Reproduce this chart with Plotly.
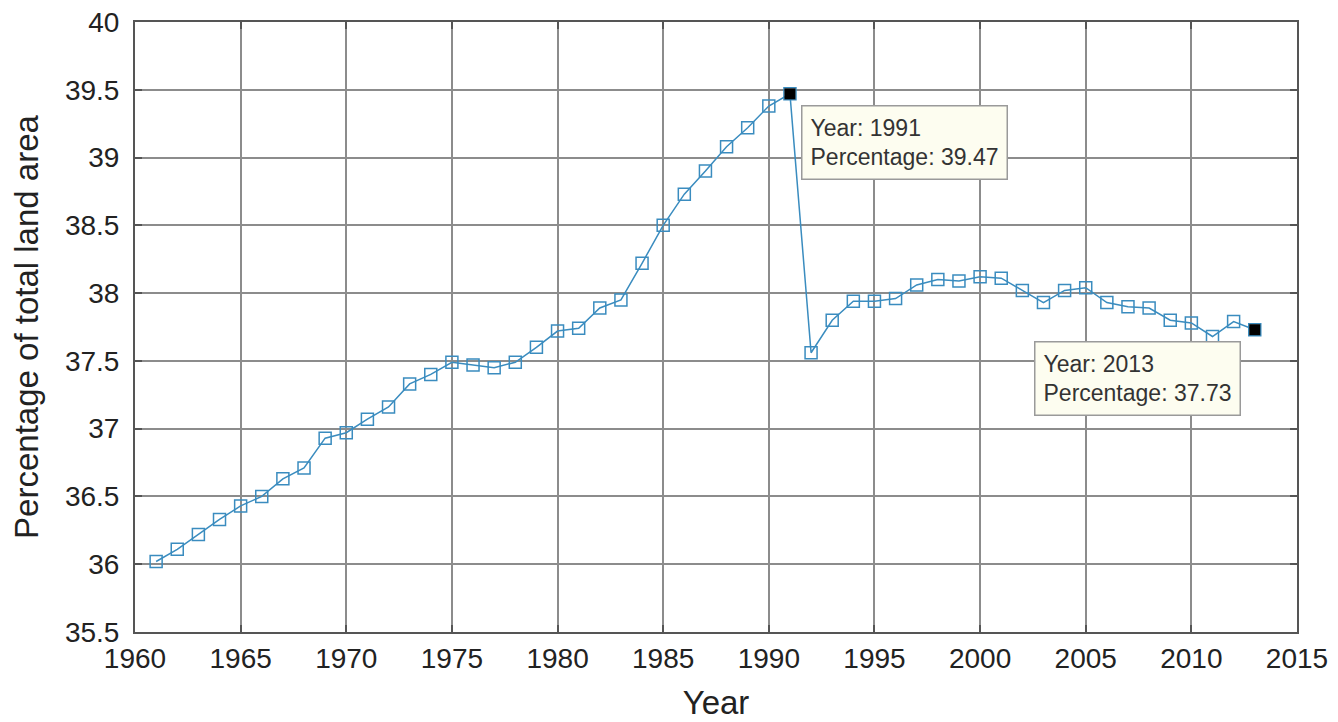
import plotly.graph_objects as go

years = list(range(1961, 2014))
percent = [
    36.02, 36.11, 36.22, 36.33, 36.43, 36.50, 36.63, 36.71, 36.93, 36.97,
    37.07, 37.16, 37.33, 37.40, 37.49, 37.47, 37.45, 37.49, 37.60, 37.72,
    37.74, 37.89, 37.95, 38.22, 38.50, 38.73, 38.90, 39.08, 39.22, 39.38,
    39.47, 37.56, 37.80, 37.94, 37.94, 37.96, 38.06, 38.10, 38.09, 38.12,
    38.11, 38.02, 37.93, 38.02, 38.04, 37.93, 37.90, 37.89, 37.80, 37.78,
    37.68, 37.79, 37.73,
]
tip_years = [1991, 2013]
tip_values = [39.47, 37.73]

x_ticks = list(range(1960, 2016, 5))
y_ticks = [35.5, 36, 36.5, 37, 37.5, 38, 38.5, 39, 39.5, 40]
y_ticklabels = ["35.5", "36", "36.5", "37", "37.5", "38", "38.5", "39", "39.5", "40"]

FONT = "Liberation Sans, Arial, Helvetica, sans-serif"
BLUE = "#3a8cbf"

fig = go.Figure()
fig.add_trace(go.Scatter(
    x=years, y=percent, mode="lines+markers",
    line=dict(color=BLUE, width=1.5),
    marker=dict(symbol="square-open", size=12, color=BLUE, line=dict(width=1.5)),
    showlegend=False, hoverinfo="skip",
))
fig.add_trace(go.Scatter(
    x=tip_years, y=tip_values, mode="markers",
    marker=dict(symbol="square", size=11, color="black"),
    showlegend=False, hoverinfo="skip",
))

# data tips
tip_font = dict(family=FONT, size=23, color="#333333")
fig.add_annotation(
    x=tip_years[0], y=tip_values[0], xref="x", yref="y",
    text=f"Year: {tip_years[0]}<br>Percentage: {tip_values[0]:.2f}",
    showarrow=False, xanchor="left", yanchor="top", xshift=11, yshift=-11,
    align="left", font=tip_font,
    bgcolor="#fdfdf0", bordercolor="#9a9a9a", borderwidth=1.5, borderpad=8,
)
fig.add_annotation(
    x=tip_years[1], y=tip_values[1], xref="x", yref="y",
    text=f"Year: {tip_years[1]}<br>Percentage: {tip_values[1]:.2f}",
    showarrow=False, xanchor="right", yanchor="top", xshift=-14, yshift=-11,
    align="left", font=tip_font,
    bgcolor="#fdfdf0", bordercolor="#9a9a9a", borderwidth=1.5, borderpad=8,
)

axis_common = dict(
    showgrid=True, gridcolor="#8c8c8c", gridwidth=1.5,
    showline=True, linecolor="#555555", linewidth=2, mirror="allticks",
    ticks="inside", ticklen=7, tickcolor="#555555", tickwidth=1.5,
    zeroline=False, automargin=False, ticklabeloverflow="allow",
    tickfont=dict(family=FONT, size=28, color="#222222"),
)

fig.update_xaxes(
    range=[1960, 2015], tickvals=x_ticks, ticktext=[str(v) for v in x_ticks],
    title=dict(text="Year", font=dict(family=FONT, size=33, color="#222222"), standoff=18),
    **axis_common,
)
fig.update_yaxes(
    range=[35.5, 40], tickvals=y_ticks, ticktext=y_ticklabels, ticklabelstandoff=8,
    title=dict(text="Percentage of total land area", font=dict(family=FONT, size=33, color="#222222"), standoff=25),
    **axis_common,
)

fig.update_layout(
    width=1338, height=722,
    margin=dict(l=127, r=49, t=14, b=98),
    plot_bgcolor="white", paper_bgcolor="white",
)

fig.write_html("out.html")
